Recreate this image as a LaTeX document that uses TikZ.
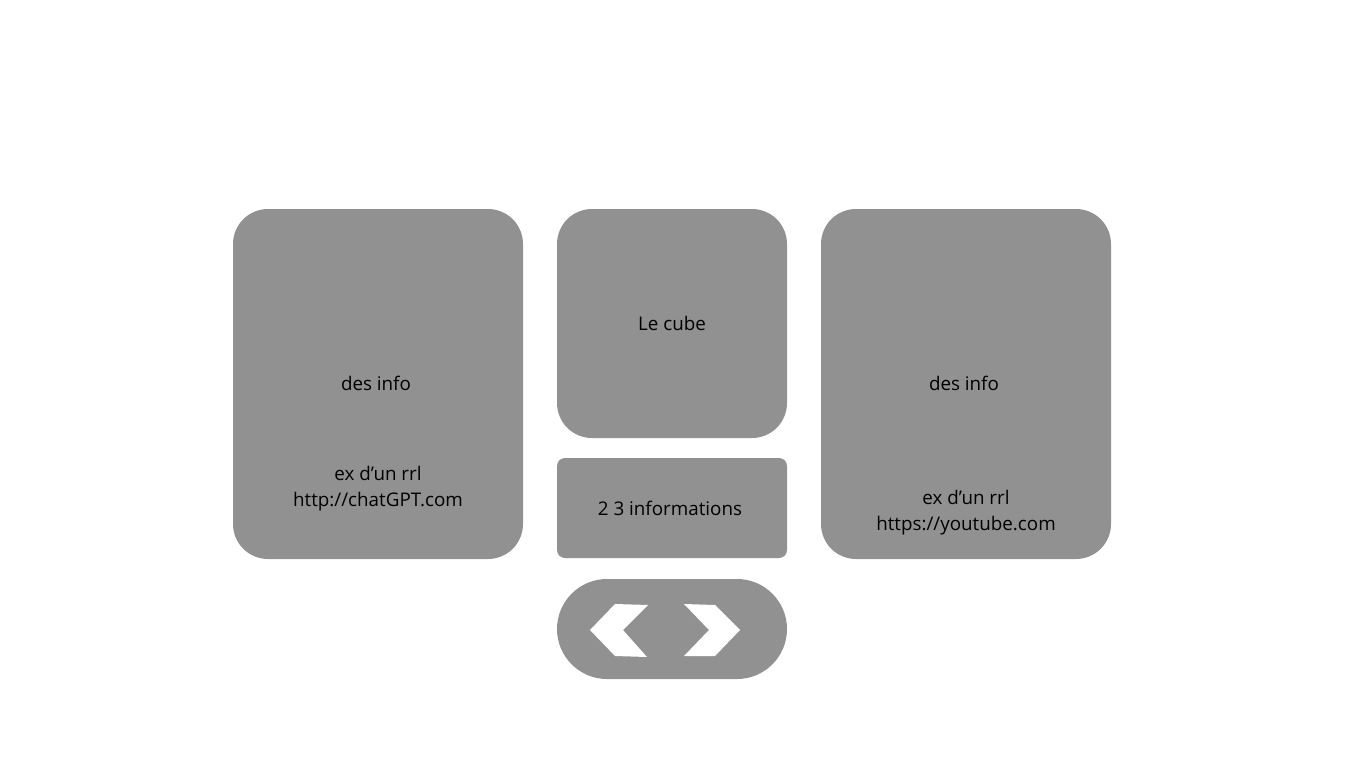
\documentclass[tikz,border=0pt]{standalone}
\usepackage{fontspec}
\setmainfont{Open Sans}
\begin{document}
\begin{tikzpicture}[x=1pt,y=-1pt,
  card/.style={fill=boxgray,draw=none,rounded corners=#1,inner sep=0pt},
  lbl/.style={font=\fontsize{18.8}{26}\selectfont,text=black,align=center,inner sep=0pt},
  chev/.style={fill=white,draw=none}]
\definecolor{boxgray}{HTML}{919191}
\useasboundingbox (0,0) rectangle (1366,768);
\fill[white] (0,0) rectangle (1366,768);
\node[card=35pt,minimum width=290pt,minimum height=350pt] (left) at (378,384) {};
\node[card=35pt,minimum width=230pt,minimum height=229pt] (cube) at (672,323.5) {};
\node[card=8pt,minimum width=230pt,minimum height=100pt] (info) at (672,508) {};
\node[card=50pt,minimum width=230pt,minimum height=100pt] (nav) at (672,629) {};
\node[card=35pt,minimum width=290pt,minimum height=350pt] (right) at (966,384) {};
\node[lbl] (l1) at (376,383) {des info};
\node[lbl] (l2) at (378,489) {ex d’un rrl\\http://chatGPT.com};
\node[lbl] (c1) at (672,323) {Le cube};
\node[lbl] (i1) at (670,508) {2 3 informations};
\node[lbl] (r1) at (964,383) {des info};
\node[lbl] (r2) at (966,513) {ex d’un rrl\\https://youtube.com};
\fill[chev] (590,630) -- (615,604) -- (648,605) -- (623,630) -- (647,657) -- (615,656) -- cycle;
\fill[chev] (684,604) -- (715,605) -- (740,630) -- (715,656) -- (684,656) -- (709,630) -- cycle;
\end{tikzpicture}
\end{document}
